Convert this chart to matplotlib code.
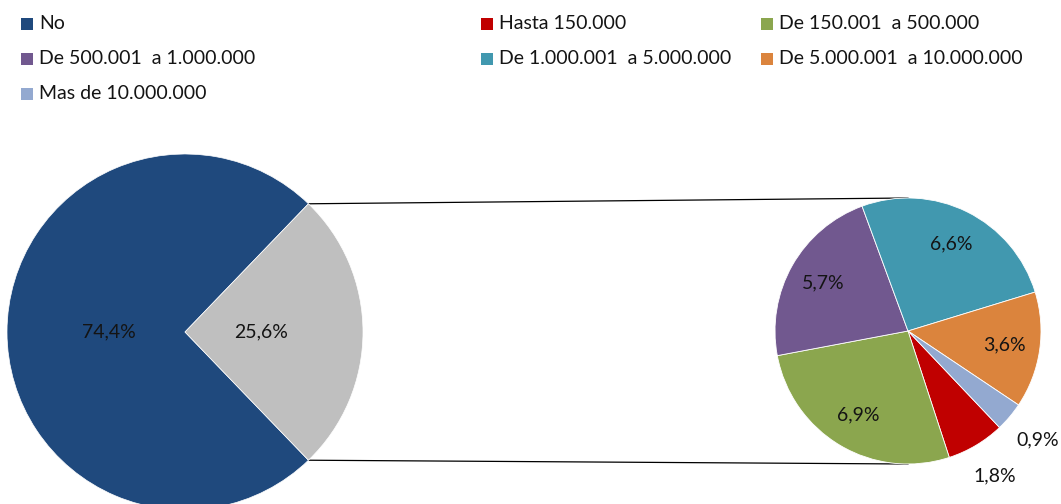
import matplotlib
matplotlib.use("Agg")
import matplotlib.pyplot as plt
from matplotlib.patches import Rectangle
import numpy as np

plt.rcParams['font.family'] = ['Lato', 'DejaVu Sans']

# ---- data ----
main_labels = ["No", "Sí"]
main_values = [74.4, 25.6]
main_colors = ["#1F497D", "#BFBFBF"]

sub_labels = ["Hasta 150.000", "De 150.001  a 500.000", "De 500.001  a 1.000.000",
              "De 1.000.001  a 5.000.000", "De 5.000.001  a 10.000.000", "Mas de 10.000.000"]
sub_values = [1.8, 6.9, 5.7, 6.6, 3.6, 0.9]
sub_colors = ["#C00000", "#8BA64E", "#71588F", "#4198AF", "#DB843D", "#93A9D0"]

legend_labels = ["No", "Hasta 150.000", "De 150.001  a 500.000",
                 "De 500.001  a 1.000.000", "De 1.000.001  a 5.000.000",
                 "De 5.000.001  a 10.000.000", "Mas de 10.000.000"]
legend_colors = [main_colors[0]] + sub_colors

W, H = 1061, 504
fig = plt.figure(figsize=(W / 100, H / 100), dpi=100)
ax = fig.add_axes([0, 0, 1, 1])

def fmt(v):
    return f"{v:.1f}".replace(".", ",") + "%"

FS = 14
TXT = "#141414"

# main pie
c1 = (185, H - 332)
r1 = 178
gray_angle = main_values[1] / sum(main_values) * 360
w1, _ = ax.pie(main_values, colors=main_colors, center=c1, radius=r1,
               startangle=gray_angle / 2, counterclock=True,
               wedgeprops=dict(linewidth=0.5, edgecolor="white"))
for w, v in zip(w1, main_values):
    mid = np.deg2rad((w.theta1 + w.theta2) / 2)
    ax.text(c1[0] + 0.43 * r1 * np.cos(mid), c1[1] + 0.43 * r1 * np.sin(mid), fmt(v),
            ha="center", va="center", fontsize=FS, color=TXT)

# sub pie
c2 = (908, H - 331)
r2 = 133
tot2 = sum(sub_values)
w2, _ = ax.pie(sub_values, colors=sub_colors, center=c2, radius=r2,
               startangle=-46.5, counterclock=False,
               wedgeprops=dict(linewidth=0.6, edgecolor="white"))
for w, v in zip(w2, sub_values):
    mid = np.deg2rad((w.theta1 + w.theta2) / 2)
    frac = v / tot2
    if frac < 0.1:
        d = 1.27
        if v < 1.5:
            mid = np.deg2rad(-40)
    else:
        d = 0.73
    ax.text(c2[0] + d * r2 * np.cos(mid), c2[1] + d * r2 * np.sin(mid), fmt(v),
            ha="center", va="center", fontsize=FS, color=TXT)

# connector lines
g = w1[1]
a_top = np.deg2rad(g.theta2)
a_bot = np.deg2rad(g.theta1)
p_top = (c1[0] + r1 * np.cos(a_top), c1[1] + r1 * np.sin(a_top))
p_bot = (c1[0] + r1 * np.cos(a_bot), c1[1] + r1 * np.sin(a_bot))
ax.plot([p_top[0], c2[0]], [p_top[1], c2[1] + r2], color="black", lw=0.9, zorder=0)
ax.plot([p_bot[0], c2[0]], [p_bot[1], c2[1] - r2], color="black", lw=0.9, zorder=0)

# legend
col_x = [21, 481, 761]
row_y = [23.5, 58.5, 93.5]
for i, (lab, col) in enumerate(zip(legend_labels, legend_colors)):
    r, cidx = divmod(i, 3)
    x = col_x[cidx]
    y = H - row_y[r]
    ax.add_patch(Rectangle((x, y - 6), 12, 12, facecolor=col, edgecolor="none"))
    ax.text(x + 18, y, lab, ha="left", va="center", fontsize=FS, color=TXT)

ax.set_xlim(0, W)
ax.set_ylim(0, H)
ax.set_aspect("equal")
ax.axis("off")
fig.savefig("out.png", dpi=100)
